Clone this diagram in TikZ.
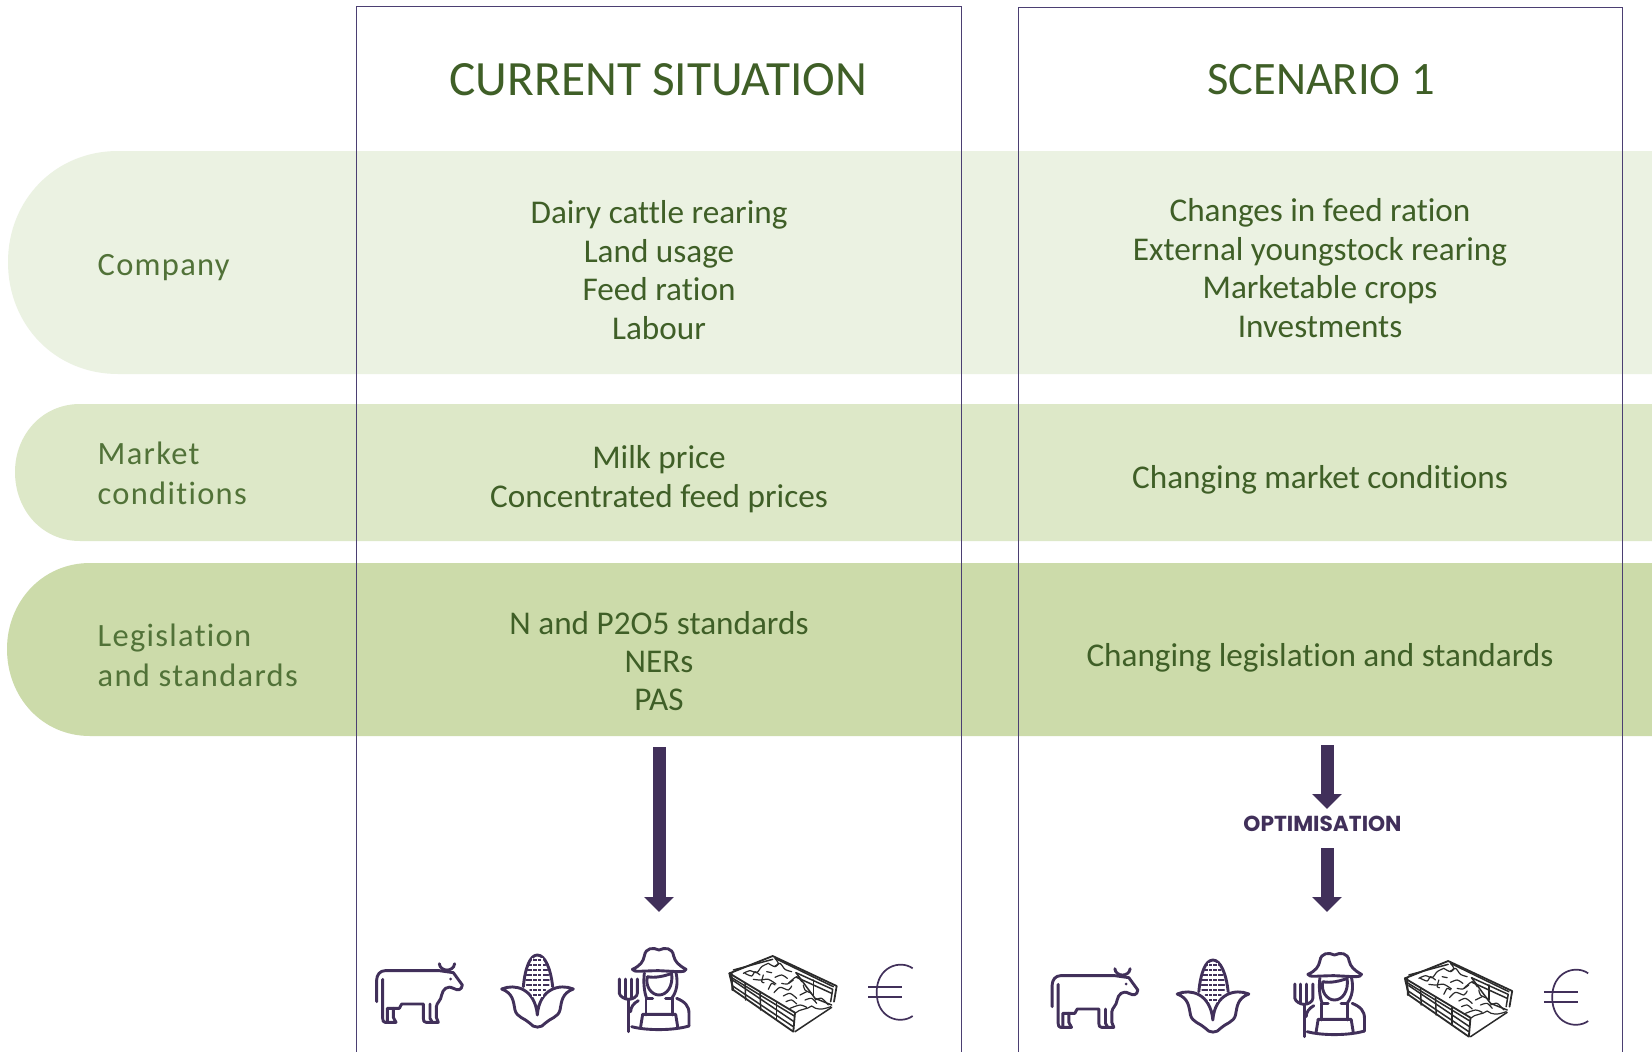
\documentclass[tikz,border=0pt]{standalone}
\usepackage{fontspec}
\usetikzlibrary{arrows.meta}
\setmainfont[Ligatures=NoCommon]{Carlito}
\newfontfamily\labfont[LetterSpace=4,Ligatures=NoCommon]{Carlito}
\newfontfamily\optfont{Poppins}
\definecolor{bandA}{HTML}{EBF2E2}
\definecolor{bandB}{HTML}{DDE8C8}
\definecolor{bandC}{HTML}{CCDBAA}
\definecolor{txtgreen}{HTML}{3F5F27}
\definecolor{lblgreen}{HTML}{517238}
\definecolor{purp}{HTML}{41305A}
\definecolor{framec}{HTML}{4B3F72}
\definecolor{bedc}{HTML}{2B2B2B}
\tikzset{
  frame/.style={draw=framec,line width=0.9pt},
  title/.style={text=txtgreen,font=\fontsize{49.3}{50}\selectfont,inner sep=0pt},
  titleb/.style={text=txtgreen,font=\fontsize{46.5}{50}\selectfont,inner sep=0pt},
  body/.style={text=txtgreen,font=\fontsize{33.2}{38.4}\selectfont,align=center,inner sep=0pt},
  lab/.style={text=lblgreen,font=\fontsize{32.5}{40}\selectfont\labfont,align=left,anchor=west,inner sep=0pt},
  bigarrow/.style={draw=purp,line width=13pt,-{Triangle[length=15pt,width=29pt]}},
  ico/.style={draw=purp,line width=2.9pt,line cap=round,line join=round},
  grain/.style={draw=purp,line width=1.8pt,line cap=round},
  bed/.style={draw=bedc,line width=1.5pt,line cap=round,line join=round},
  bedt/.style={draw=bedc,line width=1.2pt,line cap=round,line join=round},
  euro/.style={draw=purp,line width=1.7pt},
}
\newcommand{\iconset}{%
 % cow
 \draw[ico] (50,215) -- (50,150) .. controls (50,135) and (60,122) .. (75,122) -- (238,122) -- (280,128) -- (307,165) .. controls (305,180) and (295,183) .. (280,175) .. controls (262,165) and (248,178) .. (245,195) .. controls (243,212) and (230,218) .. (229,230) -- (229,262) -- (235,277) -- (198,277) .. controls (192,277) and (190,272) .. (190,265) -- (190,222) -- (125,222) -- (118,235) -- (82,235) -- (82,277) -- (75,277) .. controls (70,277) and (68,272) .. (68,265) -- (68,148);
 \draw[ico] (82,277) -- (108,277) -- (100,262) -- (100,235);
 \draw[ico] (210,222) -- (210,265) -- (217,277);
 \draw[ico] (238,101) .. controls (240,125) and (280,128) .. (284,101);
 \fill[purp] (272,147) circle (4.5);
 % corn
 \draw[ico] (490,170) .. controls (495,115) and (510,75) .. (532,75) .. controls (555,75) and (572,115) .. (578,170);
 \draw[ico] (425,177) .. controls (465,160) and (525,175) .. (532,255) .. controls (538,175) and (600,160) .. (640,177) .. controls (605,190) and (605,215) .. (600,240) .. controls (595,262) and (570,265) .. (555,280) .. controls (545,295) and (520,295) .. (510,280) .. controls (495,265) and (470,262) .. (465,240) .. controls (460,215) and (460,190) .. (425,177);
 \foreach \yy/\xa/\xb in {90/516/548,105/508/556,120/503/562,135/500/565,150/498/567,165/500/566,180/510/556,195/520/545}{
   \draw[grain] (\xa,\yy) -- (\xb,\yy);}
 \foreach \xx in {518,532,546}{\draw[white,line width=1.1pt] (\xx,84) -- (\xx,200);}
 % farmer
 \draw[ico] (817,118) .. controls (840,108) and (850,95) .. (853,78) .. controls (857,52) and (880,52) .. (897,60) .. controls (914,52) and (937,52) .. (941,78) .. controls (945,95) and (955,105) .. (978,118) .. controls (975,128) and (960,125) .. (897,122) .. controls (850,122) and (820,128) .. (817,118);
 \draw[ico] (862,140) .. controls (855,170) and (875,195) .. (897,195) .. controls (920,195) and (940,170) .. (935,130) .. controls (915,138) and (885,145) .. (862,140);
 \draw[ico] (853,130) .. controls (850,155) and (852,185) .. (860,205);
 \draw[ico] (948,128) .. controls (955,160) and (950,185) .. (935,205);
 \draw[ico] (860,205) -- (878,205);\draw[ico] (917,205) -- (935,205);
 \draw[ico] (858,205) -- (858,255);\draw[ico] (937,205) -- (937,255);
 \draw[ico] (848,253) -- (842,290);\draw[ico] (848,253) -- (947,253) -- (953,290);
 \draw[ico] (835,212) .. controls (820,220) and (812,232) .. (812,245);
 \draw[ico] (950,205) .. controls (975,215) and (987,228) .. (987,250) -- (987,288);
 \draw[ico] (815,290) .. controls (860,302) and (940,302) .. (987,288);
 \draw[ico] (806,305) -- (806,208);
 \draw[ico] (778,147) -- (778,190) .. controls (780,200) and (795,208) .. (806,208) .. controls (818,208) and (832,200) .. (832,190) -- (832,147);
 \draw[ico] (796,147) -- (796,205);\draw[ico] (814,147) -- (814,205);
}
\newcommand{\iconsetB}{%
 % bed
 \draw[bed,line width=1.8pt] (88,130) -- (218,78) -- (410,168) -- (402,215);
 \draw[bed,line width=1.8pt] (88,130) -- (285,248) -- (280,305) -- (100,180) -- (88,130);
 \draw[bed,line width=1.8pt] (95,130) -- (97,180);
 \draw[bed] (90,140) -- (283,258);\draw[bed] (100,152) -- (282,275);\draw[bed] (98,168) -- (280,290);
 \draw[bed] (135,158) -- (137,210);\draw[bed] (180,185) -- (182,240);\draw[bed] (230,218) -- (230,270);
 \draw[bed] (100,120) -- (218,88);\draw[bed] (225,85) -- (400,170);
 \draw[bed] (288,128) -- (398,178) -- (392,215);
 \draw[bed] (290,142) -- (395,190);\draw[bed] (340,150) -- (340,195);
 \draw[bed] (288,128) -- (345,205) -- (395,225);
 \draw[bed] (285,305) -- (395,232);
 \draw[bedt] (285,250) .. controls (300,235) and (320,240) .. (335,228) .. controls (350,240) and (365,240) .. (392,230);
 \foreach \cr in {
  {(130,130) (150,122) (170,128) (185,110) (205,100)},
  {(135,130) (155,138) (165,125) (180,135)},
  {(160,148) (180,150) (205,148) (228,162)},
  {(190,135) (185,155) (192,158)},
  {(200,125) (215,128)},
  {(205,100) (225,110) (240,100) (255,118) (275,125)},
  {(225,142) (245,135) (262,145)},
  {(245,160) (262,162) (280,150)},
  {(205,178) (215,160) (225,165)},
  {(222,188) (240,172) (265,180) (275,168)},
  {(250,198) (270,190) (290,205)},
  {(310,165) (315,180) (335,190)},
  {(265,160) (290,140) (305,155)},
  {(258,215) (275,210) (290,222)},
  {(300,195) (320,185)},
  {(315,210) (335,205) (350,220)},
  {(345,210) (365,205) (385,225)},
  {(270,235) (300,225) (320,232)},
  {(225,85) (235,100) (225,108)}}{
   \draw[bedt] plot[smooth] coordinates {\cr};}
 % euro
 \draw[euro] (638,115) .. controls (600,88) and (530,110) .. (530,187) .. controls (530,265) and (600,285) .. (638,258);
 \draw[euro] (505,172) -- (607,172);
 \draw[euro] (505,200) -- (607,200);
}
\begin{document}
\begin{tikzpicture}[x=1pt,y=-1pt]
\useasboundingbox (0,0) rectangle (1652,1052);
\fill[white] (0,0) rectangle (1652,1052);
% bands
\fill[bandA] (1652,151) -- (118,151) .. controls (55,151) and (8,200) .. (8,262) .. controls (8,325) and (55,374) .. (118,374) -- (1652,374) -- cycle;
\fill[bandB] (1652,404) -- (80,404) .. controls (42,404) and (15,435) .. (15,472) .. controls (15,510) and (42,541) .. (80,541) -- (1652,541) -- cycle;
\fill[bandC] (1652,563) -- (90,563) .. controls (42,563) and (7,602) .. (7,649) .. controls (7,697) and (42,736) .. (90,736) -- (1652,736) -- cycle;
% frames
\draw[frame] (356,1052) -- (356,6) -- (961,6) -- (961,1052);
\draw[frame] (1018,1052) -- (1018,7) -- (1622,7) -- (1622,1052);
% titles
\node[title] (t1) at (658.5,80) {CURRENT SITUATION};
\node[titleb] (t2) at (1321,80) {SCENARIO 1};
% row labels
\node[lab] (l1) at (97.5,268) {Company};
\node[lab] (l2) at (97.5,473) {Market\\conditions};
\node[lab] (l3) at (97.5,655) {Legislation\\and standards};
% body
\node[body] (a1) at (659,270) {Dairy cattle rearing\\Land usage\\Feed ration\\Labour};
\node[body] (a2) at (659,479) {Milk price\\Concentrated feed prices};
\node[body] (a3) at (659,661) {N and P2O5 standards\\NERs\\PAS};
\node[body] (b1) at (1320,268) {Changes in feed ration\\External youngstock rearing\\Marketable crops\\Investments};
\node[body] (b2) at (1320,480) {Changing market conditions};
\node[body] (b3) at (1320,658) {Changing legislation and standards};
% arrows
\coordinate (p1) at (659,747);
\coordinate (p2) at (659,912);
\draw[bigarrow] (p1) -- (p2);
\node[text=purp,font=\fontsize{21.7}{24}\selectfont\optfont\bfseries,inner sep=0pt] (opt) at (1322.5,824) {OPTIMISATION};
\coordinate (q1) at (1327,745);
\coordinate (q2) at (1327,809);
\coordinate (q3) at (1327,848);
\coordinate (q4) at (1327,912);
\draw[bigarrow] (q1) -- (q2);
\draw[bigarrow] (q3) -- (q4);
% icons
\begin{scope}[shift={(360,930)},x=0.33333pt,y=-0.33333pt]\iconset\end{scope}
\begin{scope}[shift={(700,930)},x=0.33333pt,y=-0.33333pt]\iconsetB\end{scope}
\begin{scope}[shift={(1035.5,935)},x=0.33333pt,y=-0.33333pt]\iconset\end{scope}
\begin{scope}[shift={(1375.5,935)},x=0.33333pt,y=-0.33333pt]\iconsetB\end{scope}
\end{tikzpicture}
\end{document}
